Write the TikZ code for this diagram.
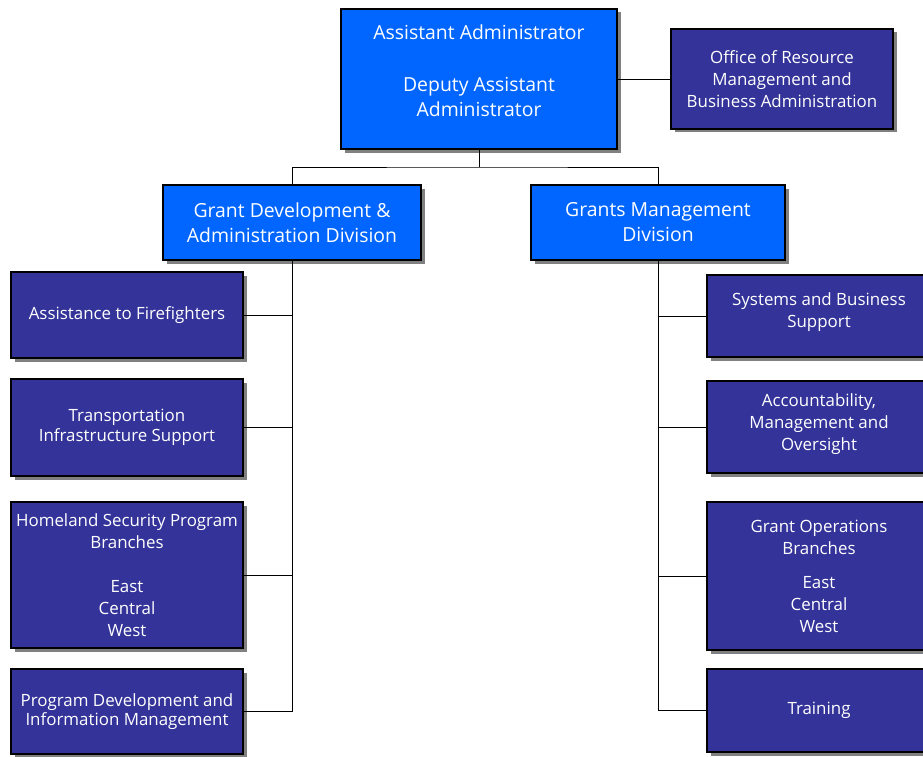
\documentclass[tikz,border=0pt]{standalone}
\usepackage{fontspec}
\setmainfont{Open Sans}
\usepackage{tikz}
\usetikzlibrary{shadows}
\definecolor{headblue}{RGB}{0,102,255}
\definecolor{unitblue}{RGB}{51,51,153}

\begin{document}
\begin{tikzpicture}[x=1pt,y=-1pt,
box/.style={draw=black, line width=1.2pt, text=white, align=center, inner sep=0pt, outer sep=0pt,
    general shadow={fill=black!50, shadow xshift=3.5pt, shadow yshift=-3.5pt}},
head/.style={box, fill=headblue, font=\fontsize{19.4}{25}\selectfont},
unit/.style={box, fill=unitblue, font=\fontsize{16.9}{22}\selectfont},
link/.style={draw=black, line width=0.9pt}]
\useasboundingbox (0,0) rectangle (923,757);
% top level
\node[head, minimum width=276pt, minimum height=140pt] (aa) at (479,79)
  {Assistant Administrator\\[27pt]Deputy Assistant\\Administrator\\[-8pt]\mbox{}};
\node[unit, minimum width=222pt, minimum height=100pt] (orm) at (782,79)
  {Office of Resource\\Management and\\Business Administration};
% divisions
\node[head, minimum width=258pt, minimum height=75pt] (gd) at (292,222.5)
  {Grant Development \&\\Administration Division};
\node[head, minimum width=254pt, minimum height=75pt] (gm) at (658,222.5)
  {Grants Management\\Division};
% branches, left
\node[unit, minimum width=232pt, minimum height=86pt] (af) at (127,315)
  {Assistance to Firefighters};
\node[unit, minimum width=232pt, minimum height=97pt] (tis) at (127,427.5)
  {Transportation\\[-2pt]Infrastructure Support};
\node[unit, minimum width=232pt, minimum height=146pt] (hsp) at (127,575)
  {Homeland Security Program\\Branches\\[22pt]East\\Central\\West};
\node[unit, minimum width=232pt, minimum height=85pt] (pdim) at (127,711.5)
  {Program Development and\\[-3pt]Information Management};
% branches, right
\node[unit, minimum width=224pt, minimum height=82pt] (sbs) at (819,316)
  {Systems and Business\\Support\\[-10pt]\mbox{}};
\node[unit, minimum width=224pt, minimum height=92pt] (amo) at (819,427)
  {Accountability,\\Management and\\Oversight\\[-12pt]\mbox{}};
\node[unit, minimum width=224pt, minimum height=148pt] (gob) at (819,576)
  {Grant Operations\\Branches\\[12pt]East\\Central\\West};
\node[unit, minimum width=224pt, minimum height=83pt] (trn) at (819,710.5)
  {Training};
% connectors
\coordinate (bus) at (479,167);
\draw[link] (aa.east) -- (orm.west);
\draw[link] (aa.south) -- (bus);
\draw[link] (gd.north) |- (bus) -| (gm.north);
\draw[link] (gd.south) -- (gd.south |- pdim.east) -- (pdim.east);
\foreach \n in {af,tis,hsp}
  \draw[link] (\n.east) -- (\n.east -| gd.south);
\draw[link] (gm.south) -- (gm.south |- trn.west) -- (trn.west);
\foreach \n in {sbs,amo,gob}
  \draw[link] (\n.west) -- (\n.west -| gm.south);
\end{tikzpicture}
\end{document}
